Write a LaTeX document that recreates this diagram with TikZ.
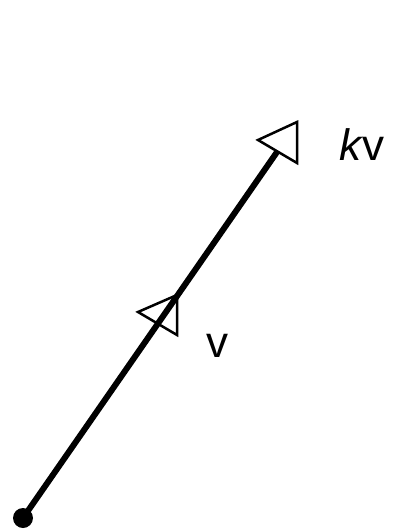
\documentclass[tikz,border=0pt]{standalone}
\usepackage{fontspec}
\setsansfont{Liberation Sans}
\usetikzlibrary{positioning,calc}
\begin{document}
\begin{tikzpicture}[x=1pt,y=-1pt]
    % Define styles
    \tikzstyle{vector line}=[line width=6pt]
    \tikzstyle{open head}=[line width=2.5pt, line join=miter]
    \tikzstyle{tail dot}=[circle, fill, inner sep=0pt, minimum size=20pt]
    \tikzstyle{label}=[font=\fontsize{44}{50}\selectfont\sffamily, inner sep=0pt]
    \useasboundingbox (0,0) rectangle (404,532);

    % Vector from the origin
    \node[tail dot] (O) at (23,518) {};
    \coordinate (E) at (277,152);
    \draw[vector line] (O.center) -- (E);

    % Open heads
    \draw[open head] (177,295) -- (177,335) -- (138,312) -- cycle;
    \draw[open head] (297,122) -- (297,163) -- (258,140) -- cycle;

    % Labels
    \node[label] (v) at (217,346) {v};
    \node[label] (kv) at (362,145) {\textit{k}v};
\end{tikzpicture}
\end{document}
